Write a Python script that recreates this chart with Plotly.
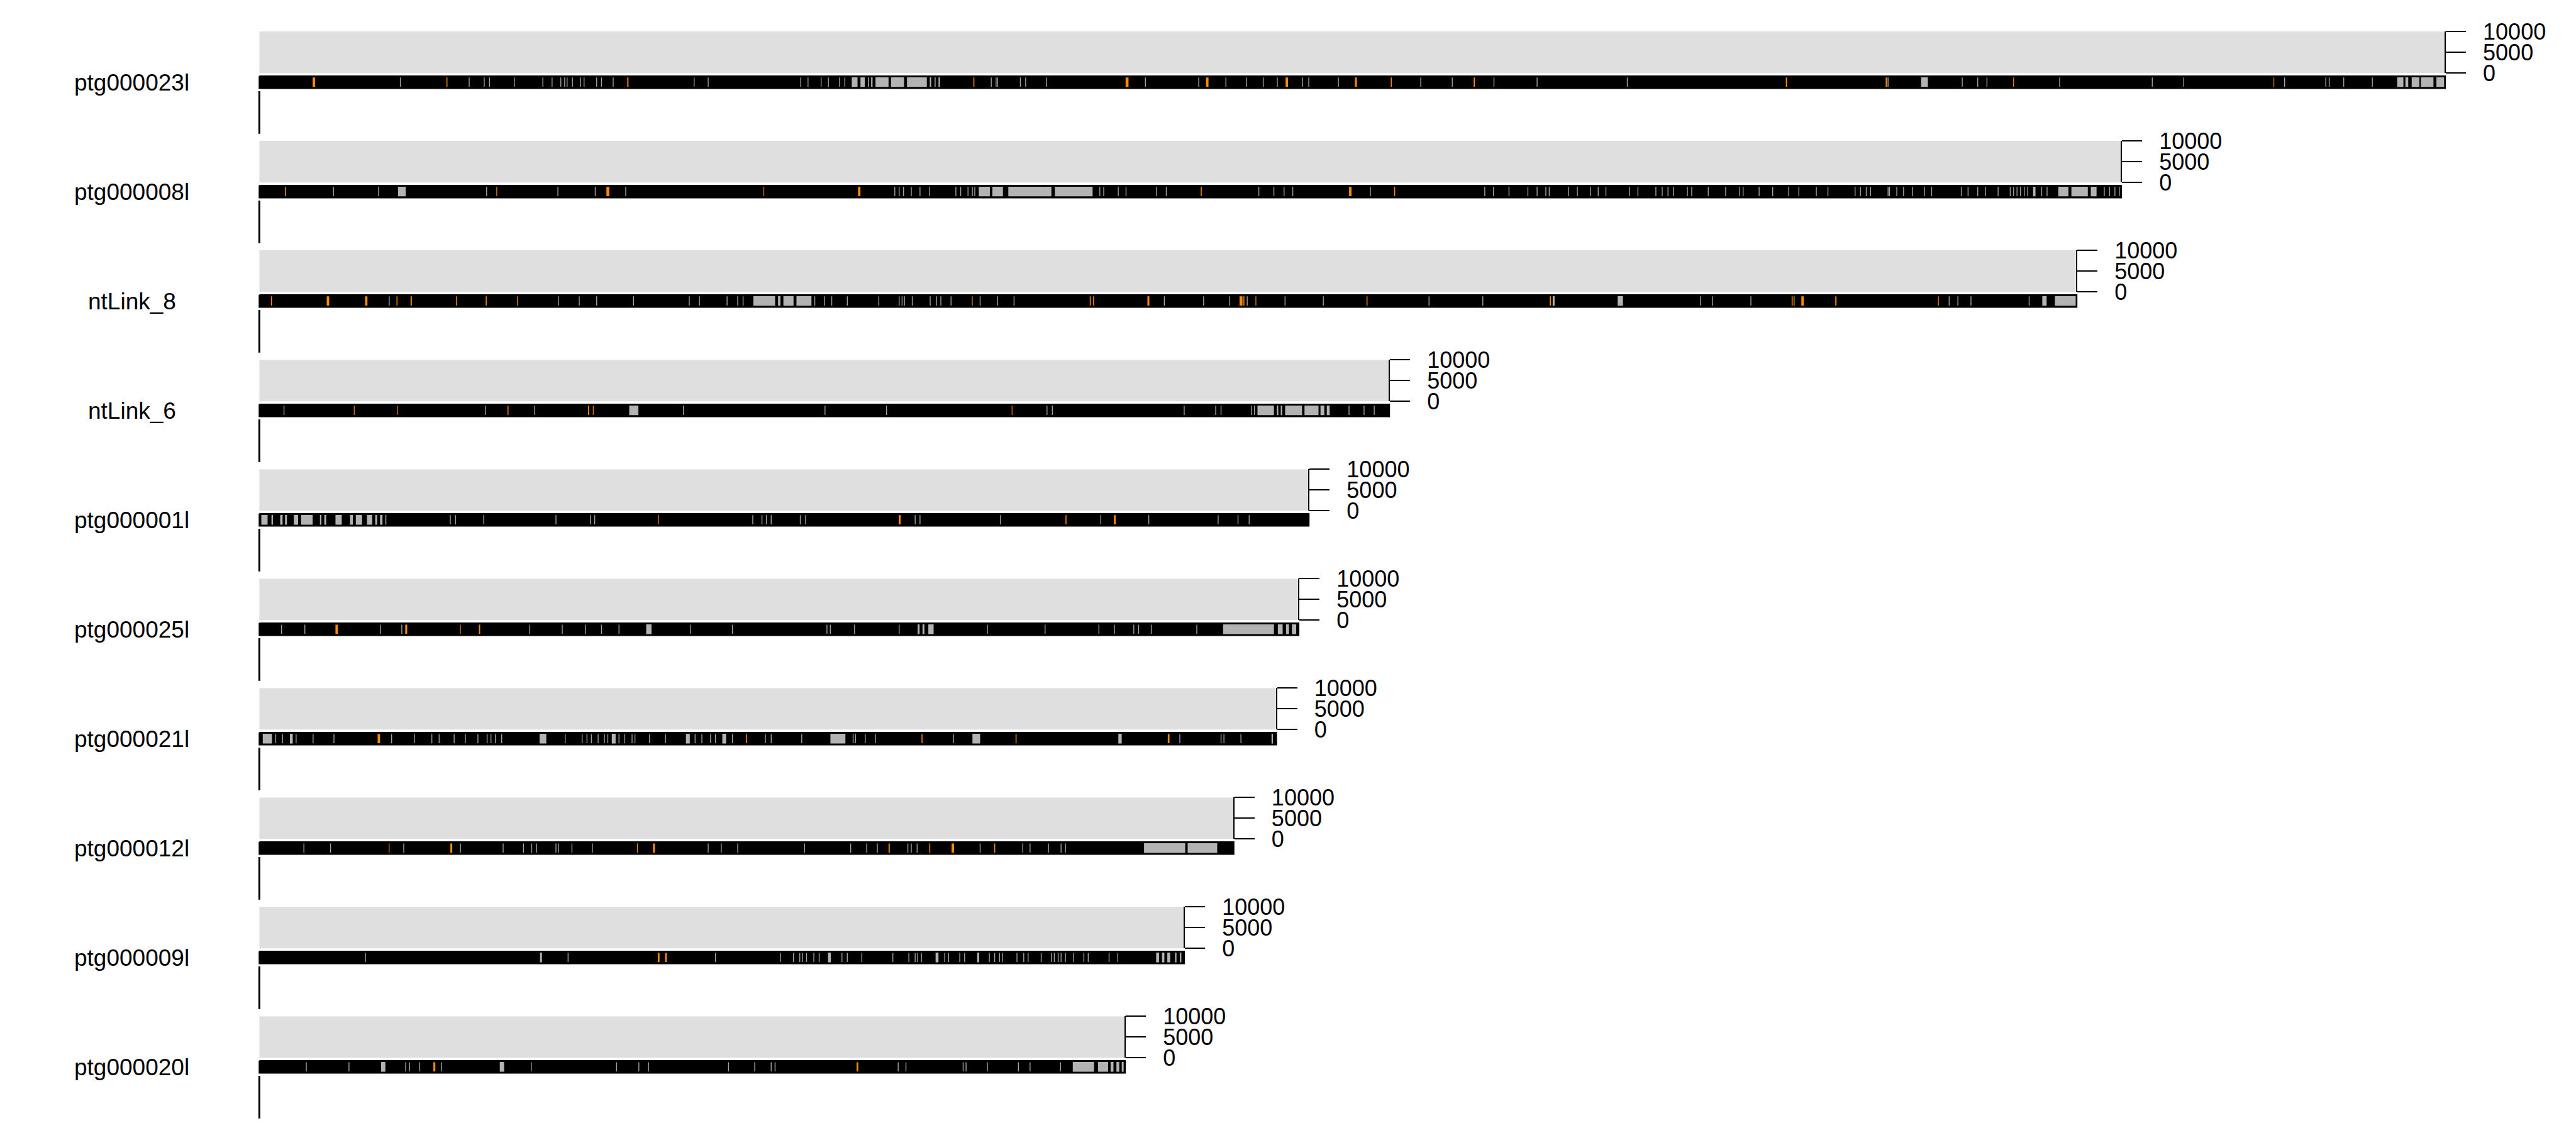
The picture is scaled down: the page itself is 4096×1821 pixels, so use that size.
import plotly.graph_objects as go

# ---------------- data ----------------
CHROMS = ["ptg000023l", "ptg000008l", "ntLink_8", "ntLink_6", "ptg000001l",
          "ptg000025l", "ptg000021l", "ptg000012l", "ptg000009l", "ptg000020l"]
CHROM_LENGTH_MB = [90.18, 76.82, 74.98, 46.62, 43.30, 42.88, 41.96, 40.20, 38.16, 35.72]

AXIS_TICKS = [0, 5000, 10000]
AXIS_TICKTEXT = ["0", "5000", "10000"]
AXIS_MAX = 10000

# wide grey bands (start, end) in Mb
GREY_BLOCKS = {
    "ptg000023l": [(24.42, 24.70), (24.78, 25.00), (25.10, 25.18), (25.22, 25.32), (25.40, 25.98),
                   (26.04, 26.62), (26.70, 27.56), (27.64, 27.74), (27.84, 27.92), (28.00, 28.10),
                   (68.54, 68.86), (88.18, 88.48), (88.52, 88.68), (88.78, 89.14), (89.16, 89.72),
                   (89.80, 90.16)],
    "ptg000008l": [(5.70, 6.06), (29.66, 30.16), (30.22, 30.70), (30.88, 32.70), (32.80, 34.40),
                   (73.16, 73.30), (74.20, 74.66), (74.74, 75.46), (75.54, 75.82)],
    "ntLink_8": [(20.36, 21.30), (21.38, 21.52), (21.60, 22.06), (22.14, 22.80), (53.34, 53.46),
                 (56.02, 56.28), (73.54, 73.76), (74.06, 74.96)],
    "ntLink_6": [(15.24, 15.66), (41.16, 41.88), (41.96, 42.06), (42.12, 42.22), (42.30, 43.04),
                 (43.10, 43.72), (43.76, 43.96), (44.02, 44.18)],
    "ptg000001l": [(0.06, 0.36), (0.48, 0.58), (0.84, 0.98), (1.04, 1.16), (1.40, 1.62),
                   (1.70, 2.22), (2.48, 2.58), (2.66, 2.78), (3.12, 3.42), (3.72, 3.88),
                   (3.96, 4.26), (4.42, 4.68), (4.76, 4.88), (4.96, 5.10), (5.18, 5.26)],
    "ptg000025l": [(15.94, 16.20), (27.14, 27.26), (27.34, 27.46), (27.58, 27.84), (39.74, 41.88),
                   (42.00, 42.24), (42.34, 42.50), (42.58, 42.80)],
    "ptg000021l": [(0.12, 0.54), (1.24, 1.40), (11.54, 11.86), (14.52, 14.72), (17.58, 17.78),
                   (19.08, 19.28), (23.54, 24.20), (29.40, 29.76), (35.42, 35.60), (41.74, 41.84)],
    "ptg000012l": [(36.48, 38.22), (38.28, 39.54)],
    "ptg000009l": [(11.56, 11.68), (23.44, 23.60), (27.88, 28.04), (29.60, 29.72), (36.98, 37.14),
                   (37.22, 37.36), (37.44, 37.60), (37.76, 37.86), (37.96, 38.06)],
    "ptg000020l": [(5.00, 5.22), (9.90, 10.12), (33.54, 34.46), (34.58, 35.04), (35.10, 35.26),
                   (35.34, 35.50), (35.56, 35.68)],
}

# narrow grey bands (position in Mb)
THIN_BANDS = {
    "ptg000023l": [5.80, 8.64, 9.26, 9.48, 10.50, 11.68, 12.06, 12.42, 12.58, 12.68, 12.90, 13.24,
                   13.38, 13.90, 14.10, 14.58, 17.92, 18.50, 22.32, 22.62, 23.16, 23.46, 23.92,
                   24.14, 30.18, 30.38, 30.44, 31.38, 31.60, 32.46, 36.54, 38.74, 39.86, 40.72,
                   41.40, 41.98, 43.02, 43.28, 44.50, 47.90, 49.20, 50.92, 52.70, 56.42, 67.18,
                   70.24, 70.88, 71.26, 74.26, 78.08, 79.38, 83.54, 85.24, 85.38, 85.98, 87.16],
    "ptg000008l": [3.04, 4.90, 9.36, 12.30, 13.84, 15.10, 26.20, 26.38, 26.56, 26.88, 27.24, 27.64,
                   28.72, 28.92, 29.22, 29.40, 29.50, 34.66, 34.82, 35.42, 35.74, 37.00, 37.40,
                   41.22, 41.84, 42.26, 42.62, 45.82, 50.54, 50.90, 51.54, 52.32, 52.70, 53.06,
                   53.20, 54.00, 54.36, 54.90, 55.22, 55.54, 56.52, 56.86, 57.60, 57.86, 58.10,
                   58.32, 58.90, 59.08, 59.76, 60.48, 61.06, 61.20, 61.86, 62.42, 63.08, 63.50,
                   64.22, 64.70, 65.82, 66.04, 66.28, 66.46, 67.18, 67.24, 67.54, 67.82, 68.18,
                   68.68, 68.98, 70.20, 70.48, 70.88, 71.20, 71.72, 72.22, 72.36, 72.50, 72.64,
                   72.80, 72.94, 73.52, 73.74, 76.10, 76.32, 76.54, 76.72],
    "ntLink_8": [5.34, 12.32, 13.18, 13.90, 15.42, 17.72, 18.14, 19.28, 19.72, 19.94, 22.90, 23.30,
                 23.60, 24.24, 25.54, 26.38, 26.50, 26.60, 26.92, 27.66, 27.92, 28.10, 28.52,
                 29.72, 30.44, 31.12, 37.32, 38.94, 40.02, 40.74, 42.30, 43.88, 48.24, 50.46,
                 59.44, 59.94, 61.52, 69.70, 70.06, 70.60, 73.00],
    "ntLink_6": [1.00, 9.32, 11.34, 17.48, 23.32, 25.86, 32.48, 32.70, 38.14, 39.44, 39.66, 40.92,
                 41.04, 44.94, 45.56, 45.98],
    "ptg000001l": [7.86, 8.08, 9.24, 12.22, 13.64, 13.82, 20.34, 20.72, 20.90, 21.10, 22.30, 22.52,
                   27.04, 27.24, 30.56, 34.70, 36.68, 39.54, 40.36, 40.82],
    "ptg000025l": [0.90, 1.86, 4.98, 5.86, 11.14, 12.48, 13.44, 14.10, 14.82, 17.78, 19.50, 23.40,
                   23.54, 24.54, 26.38, 30.02, 32.40, 34.62, 35.26, 36.06, 36.26, 36.78, 38.66],
    "ptg000021l": [0.66, 0.94, 1.50, 2.20, 3.06, 5.44, 6.38, 7.10, 7.40, 8.02, 8.48, 9.00, 9.38,
                   9.54, 9.72, 9.98, 12.60, 13.30, 13.50, 13.68, 13.96, 14.22, 14.36, 14.82, 15.06,
                   15.36, 15.48, 16.08, 16.74, 17.96, 18.24, 18.60, 18.80, 19.50, 20.86, 21.10,
                   22.36, 24.48, 24.58, 24.98, 25.40, 28.62, 37.96, 39.66, 39.78, 40.48],
    "ptg000012l": [1.82, 2.92, 5.94, 8.28, 10.04, 10.88, 11.22, 11.42, 12.22, 12.32, 12.88, 13.72,
                   18.50, 19.04, 19.72, 22.48, 24.38, 25.04, 25.48, 26.74, 26.88, 27.12, 29.72,
                   31.48, 31.78, 32.54, 33.06, 33.24],
    "ptg000009l": [4.36, 12.72, 18.80, 21.48, 22.02, 22.28, 22.40, 22.56, 22.86, 23.08, 24.02,
                   24.24, 24.84, 26.12, 26.78, 27.04, 27.14, 27.30, 28.26, 28.42, 28.88, 29.08,
                   30.10, 30.32, 30.52, 30.64, 31.24, 31.52, 31.70, 32.24, 32.66, 32.78, 32.94,
                   33.06, 33.24, 33.58, 34.00, 34.18, 35.04, 35.40],
    "ptg000020l": [1.92, 3.68, 6.02, 6.18, 6.60, 7.50, 11.20, 14.72, 15.64, 16.04, 19.34, 20.42,
                   21.10, 21.26, 26.34, 26.66, 29.02, 29.14, 30.02, 31.30, 31.78, 33.04],
}
THIN_BAND_WIDTH_MB = 0.035

# orange bands (position, width) in Mb
ORANGE_BANDS = {
    "ptg000023l": [(2.20, 0.10), (7.72, 0.04), (15.18, 0.05), (29.46, 0.04), (35.74, 0.12),
                   (39.06, 0.10), (42.34, 0.10), (45.20, 0.08), (46.68, 0.04), (50.10, 0.05),
                   (62.98, 0.05), (67.10, 0.05), (72.36, 0.03), (83.10, 0.03)],
    "ptg000008l": [(1.06, 0.04), (9.78, 0.03), (14.32, 0.12), (20.80, 0.03), (24.70, 0.10),
                   (38.84, 0.04), (44.96, 0.10), (46.82, 0.04)],
    "ntLink_8": [(0.48, 0.04), (2.78, 0.10), (4.36, 0.10), (5.66, 0.04), (6.24, 0.05), (8.12, 0.04),
                 (9.34, 0.04), (10.64, 0.04), (29.40, 0.03), (34.26, 0.04), (34.40, 0.04),
                 (36.64, 0.08), (40.44, 0.12), (40.60, 0.04), (41.10, 0.03), (45.68, 0.04),
                 (53.24, 0.05), (63.22, 0.04), (63.30, 0.04), (63.62, 0.10), (65.02, 0.05),
                 (69.26, 0.03)],
    "ntLink_6": [(3.90, 0.03), (5.68, 0.03), (10.24, 0.04), (13.56, 0.04), (13.76, 0.03),
                 (31.04, 0.03)],
    "ptg000001l": [(16.46, 0.03), (26.38, 0.08), (33.26, 0.04), (35.26, 0.07)],
    "ptg000025l": [(3.14, 0.10), (6.02, 0.08), (8.28, 0.03), (9.06, 0.05)],
    "ptg000021l": [(4.88, 0.10), (20.08, 0.04), (27.32, 0.04), (31.20, 0.04), (37.48, 0.07)],
    "ptg000012l": [(5.34, 0.03), (7.88, 0.08), (15.58, 0.03), (16.24, 0.08), (25.96, 0.05),
                   (27.64, 0.04), (28.56, 0.10), (30.32, 0.04)],
    "ptg000009l": [(16.44, 0.07), (16.74, 0.07)],
    "ptg000020l": [(7.18, 0.08), (24.64, 0.07)],
}

# ---------------- layout / style ----------------
REF_W, REF_H = 5314, 2362          # reference canvas
OUT_W, OUT_H = 4096, 1821          # output canvas

X_START_REF = 535                  # chromosome start (reference px)
PX_PER_MB_REF = 50.0               # reference px per Mb
ROW_PITCH = 225.7
PANEL_TOP, PANEL_BOTTOM = 65.0, 151.0
IDEO_TOP, IDEO_BOTTOM = 157.0, 182.0
BAND_INSET = 3.0
VLINE_TOP, VLINE_BOTTOM = 188.0, 276.0
LABEL_X_REF = 272.0
LABEL_Y_REF = 170.0

FONT = "Liberation Sans, Arial, Helvetica, sans-serif"
LABEL_FONT_SIZE = 37
TICK_FONT_SIZE = 36
PANEL_COLOR = "#dfdfdf"
GREY_COLOR = "#b3b3b3"
THIN_COLOR = "#a6a6a6"
ORANGE_COLOR = "#ff8c00"

x_range = [-X_START_REF / PX_PER_MB_REF, (REF_W - X_START_REF) / PX_PER_MB_REF]


def rect_path(x0, x1, y0, y1, xs, ys):
    xs.extend([x0, x1, x1, x0, x0, None])
    ys.extend([y0, y0, y1, y1, y0, None])


fig = go.Figure()

body_x, body_y = [], []
block_x, block_y = [], []
thin_x, thin_y = [], []
or_x, or_y = [], []
vl_x, vl_y = [], []

for i, (name, length) in enumerate(zip(CHROMS, CHROM_LENGTH_MB)):
    off = i * ROW_PITCH
    it, ib = IDEO_TOP + off, IDEO_BOTTOM + off
    rect_path(0, length, it, ib, body_x, body_y)
    for p in THIN_BANDS[name]:
        rect_path(p, p + THIN_BAND_WIDTH_MB, it + BAND_INSET, ib - BAND_INSET, thin_x, thin_y)
    for p, w in ORANGE_BANDS[name]:
        rect_path(p, p + w, it + BAND_INSET, ib - BAND_INSET, or_x, or_y)
    for s0, s1 in GREY_BLOCKS[name]:
        rect_path(s0, s1, it + 1.5, ib - 1.5, block_x, block_y)
    vl_x.extend([0, 0, None])
    vl_y.extend([VLINE_TOP + off, VLINE_BOTTOM + off, None])

    # data panel background on its own y axis (0..10000)
    yname = f"y{i + 2}"
    fig.add_trace(go.Scatter(
        x=[0, length, length, 0, 0], y=[0, 0, AXIS_MAX, AXIS_MAX, 0],
        xaxis="x", yaxis=yname, mode="lines", fill="toself",
        fillcolor=PANEL_COLOR, line=dict(width=0), hoverinfo="skip", showlegend=False))

fig.add_trace(go.Scatter(x=body_x, y=body_y, mode="lines", fill="toself", fillcolor="black",
                         line=dict(color="black", width=2.2), hoverinfo="skip", showlegend=False))
fig.add_trace(go.Scatter(x=thin_x, y=thin_y, mode="lines", fill="toself", fillcolor=THIN_COLOR,
                         line=dict(width=0), hoverinfo="skip", showlegend=False))
fig.add_trace(go.Scatter(x=or_x, y=or_y, mode="lines", fill="toself", fillcolor=ORANGE_COLOR,
                         line=dict(width=0), hoverinfo="skip", showlegend=False))
fig.add_trace(go.Scatter(x=block_x, y=block_y, mode="lines", fill="toself", fillcolor=GREY_COLOR,
                         line=dict(color="black", width=1.6), hoverinfo="skip", showlegend=False))
fig.add_trace(go.Scatter(x=vl_x, y=vl_y, mode="lines", line=dict(color="black", width=3),
                         hoverinfo="skip", showlegend=False))

layout = dict(
    width=OUT_W, height=OUT_H,
    margin=dict(l=0, r=0, t=0, b=0, pad=0, autoexpand=False),
    paper_bgcolor="white", plot_bgcolor="rgba(0,0,0,0)",
    showlegend=False,
    xaxis=dict(domain=[0, 1], range=x_range, visible=False, fixedrange=True, automargin=False),
    yaxis=dict(domain=[0, 1], range=[REF_H, 0], visible=False, fixedrange=True, automargin=False),
    font=dict(family=FONT, color="black", size=LABEL_FONT_SIZE),
)

annotations = []
for i, (name, length) in enumerate(zip(CHROMS, CHROM_LENGTH_MB)):
    off = i * ROW_PITCH
    d0 = 1 - (PANEL_BOTTOM + off) / REF_H
    d1 = 1 - (PANEL_TOP + off) / REF_H
    pos = (X_START_REF + length * PX_PER_MB_REF) / REF_W
    layout[f"yaxis{i + 2}"] = dict(
        domain=[d0, d1], range=[0, AXIS_MAX], anchor="free", position=pos, side="right",
        showline=True, linecolor="black", linewidth=2,
        ticks="outside", ticklen=32, tickwidth=2, tickcolor="black",
        tickmode="array", tickvals=AXIS_TICKS, ticktext=AXIS_TICKTEXT,
        tickfont=dict(family=FONT, size=TICK_FONT_SIZE, color="black"),
        ticklabelstandoff=20,
        showgrid=False, zeroline=False, fixedrange=True, automargin=False,
    )
    annotations.append(dict(
        x=LABEL_X_REF / REF_W, xref="paper", y=LABEL_Y_REF + off, yref="y",
        text=name, showarrow=False, xanchor="center", yanchor="middle",
        font=dict(family=FONT, size=LABEL_FONT_SIZE, color="black")))

layout["annotations"] = annotations
fig.update_layout(**layout)

fig.write_html("out.html")
